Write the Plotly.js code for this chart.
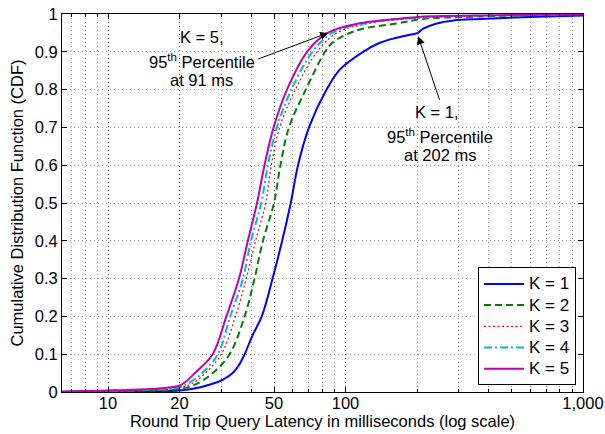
<!DOCTYPE html>
<html>
<head>
<meta charset="utf-8">
<script src="https://cdn.plot.ly/plotly-3.0.1.min.js"></script>
<style>html,body{margin:0;padding:0;background:#fff;}#chart{width:605px;height:434px;}</style>
</head>
<body>
<div id="chart"></div>
<script>
// Latency (ms) and CDF values
var k1_x = [6.4, 10, 15, 20, 23, 26, 30.5, 33.5, 35.5, 37.6, 40.6, 44.4, 49.3, 54.1, 58.8, 63.1, 70.2, 83.2, 94.6, 118.6, 139.6, 164, 196, 202, 212.5, 242, 284, 369, 600, 1000];
var k1_y = [0.0002, 0.001, 0.002, 0.004, 0.009, 0.017, 0.033, 0.05, 0.07, 0.1, 0.15, 0.2, 0.3, 0.4, 0.5, 0.6, 0.7, 0.8, 0.853, 0.9, 0.924, 0.937, 0.948, 0.950, 0.961, 0.975, 0.983, 0.987, 0.992, 0.996];

var k2_x = [6.4, 10, 15, 20, 23, 27.6, 32.5, 37.6, 41.4, 44.9, 50, 53.2, 57.8, 68, 82, 88, 101, 118, 164, 212, 313, 600, 1000];
var k2_y = [0.0003, 0.002, 0.004, 0.008, 0.018, 0.05, 0.1, 0.2, 0.3, 0.4, 0.5, 0.6, 0.7, 0.8, 0.9, 0.924, 0.946, 0.961, 0.975, 0.987, 0.992, 0.997, 0.999];

var k3_x = [6.4, 10, 15, 20, 22.5, 25.5, 30, 34.4, 38.2, 41.8, 46.1, 48.7, 52.8, 61.5, 75.9, 92, 125, 210, 420, 1000];
var k3_y = [0.0005, 0.003, 0.005, 0.011, 0.022, 0.048, 0.1, 0.2, 0.3, 0.4, 0.5, 0.6, 0.7, 0.8, 0.9, 0.95, 0.975, 0.99, 0.996, 0.9995];

var k4_x = [6.4, 10, 15, 20, 22, 24.7, 29, 32.7, 37, 40, 44.2, 47.1, 51.4, 59.2, 72.6, 88, 120, 200, 400, 1000];
var k4_y = [0.0005, 0.003, 0.006, 0.013, 0.025, 0.048, 0.1, 0.2, 0.3, 0.4, 0.5, 0.6, 0.7, 0.8, 0.9, 0.95, 0.975, 0.99, 0.996, 0.9995];

var k5_x = [6.4, 10, 15, 18, 20, 21.5, 23, 27.6, 31.5, 35.6, 38.8, 42.4, 45.6, 49.8, 56.7, 68.9, 84, 118.6, 164, 227, 433, 1000];
var k5_y = [0.001, 0.004, 0.008, 0.012, 0.017, 0.03, 0.048, 0.1, 0.2, 0.3, 0.4, 0.5, 0.6, 0.7, 0.8, 0.9, 0.95, 0.977, 0.987, 0.994, 0.997, 1.0];

var seriesNames = ['K = 1', 'K = 2', 'K = 3', 'K = 4', 'K = 5'];
var xTickVals = [10, 20, 50, 100, 1000];
var xTickText = ['10', '20', '50', '100', '1,000'];
var xMinorVals = [7, 8, 9, 30, 40, 60, 70, 80, 90, 200, 300, 400, 500, 600, 700, 800, 900];
var yTickVals = [0, 0.1, 0.2, 0.3, 0.4, 0.5, 0.6, 0.7, 0.8, 0.9, 1];
var yTickText = ['0', '0.1', '0.2', '0.3', '0.4', '0.5', '0.6', '0.7', '0.8', '0.9', '1'];

var FONT = 'Liberation Sans, Arial, Helvetica, sans-serif';
var FS = 16.5;

function legName(s) { return '<span style="font-size:17px">' + s + '</span>'; }

var SM = 1.0;
var traces = [
  {x: k1_x, y: k1_y, name: legName(seriesNames[0]), mode: 'lines', line: {color: '#0000ff', width: 2, shape: 'spline', smoothing: SM}},
  {x: k2_x, y: k2_y, name: legName(seriesNames[1]), mode: 'lines', line: {color: '#008000', width: 2, dash: '7px,4px', shape: 'spline', smoothing: SM}},
  {x: k3_x, y: k3_y, name: legName(seriesNames[2]), mode: 'lines', line: {color: '#ff0000', width: 1.2, dash: '2px,2.5px', shape: 'spline', smoothing: SM}},
  {x: k4_x, y: k4_y, name: legName(seriesNames[3]), mode: 'lines', line: {color: '#00bfbf', width: 2, dash: '8px,3px,2px,3px', shape: 'spline', smoothing: SM}},
  {x: k5_x, y: k5_y, name: legName(seriesNames[4]), mode: 'lines', line: {color: '#bf00bf', width: 2, shape: 'spline', smoothing: SM}}
];

var L = Math.log10;
function ann(text, x, y) {
  return {text: text, x: L(x), y: y, xref: 'x', yref: 'y', showarrow: false,
          xanchor: 'center', yanchor: 'middle', font: {family: FONT, size: FS, color: '#000'}};
}
function arrow(tx, ty, hx, hy) {
  return {text: '', x: L(hx), y: hy, ax: L(tx), ay: ty, xref: 'x', yref: 'y', axref: 'x', ayref: 'y',
          showarrow: true, arrowhead: 2, arrowsize: 1.6, arrowwidth: 1, arrowcolor: '#000', standoff: 0};
}

var layout = {
  width: 605, height: 434,
  margin: {l: 62, r: 22, t: 14, b: 42, pad: 0},
  paper_bgcolor: '#fff', plot_bgcolor: '#fff',
  font: {family: FONT, size: FS, color: '#000'},
  showlegend: true,
  legend: {x: 0.9866, xanchor: 'right', y: 0.0177, yanchor: 'bottom', bgcolor: '#fff',
           bordercolor: '#000', borderwidth: 1, itemwidth: 40,
           font: {family: FONT, size: 14, color: '#000'}},
  xaxis: {
    type: 'log', range: [L(6.4), 3],
    tickmode: 'array', tickvals: xTickVals, ticktext: xTickText,
    ticks: 'inside', ticklen: 5, tickcolor: '#000', tickwidth: 1,
    showline: true, linecolor: '#000', linewidth: 1, mirror: 'ticks',
    showgrid: true, gridcolor: '#555', gridwidth: 1, griddash: '1px,3px',
    zeroline: false, ticklabelstandoff: -4,
    minor: {tickmode: 'array', tickvals: xMinorVals, ticks: 'inside', ticklen: 3, tickcolor: '#000',
            showgrid: true, gridcolor: '#999', gridwidth: 1, griddash: '1px,3px'},
    tickfont: {family: FONT, size: FS, color: '#000'},
    title: {text: 'Round Trip Query Latency in milliseconds (log scale)', font: {family: FONT, size: FS, color: '#000'}, standoff: 4}
  },
  yaxis: {
    range: [0, 1],
    tickmode: 'array', tickvals: yTickVals, ticktext: yTickText,
    ticks: 'inside', ticklen: 5, tickcolor: '#000', tickwidth: 1,
    showline: true, linecolor: '#000', linewidth: 1, mirror: 'ticks',
    showgrid: true, gridcolor: '#999', gridwidth: 1, griddash: '1px,3px',
    zeroline: false,
    tickfont: {family: FONT, size: FS, color: '#000'},
    title: {text: 'Cumulative Distribution Function (CDF)', font: {family: FONT, size: FS, color: '#000'}, standoff: 6}
  },
  shapes: [
    {type: 'line', xref: 'x', yref: 'paper', x0: L(20), x1: L(20), y0: 0, y1: 1, layer: 'below', line: {color: '#000', width: 2, dash: '2px,2px'}},
    {type: 'line', xref: 'x', yref: 'paper', x0: L(50), x1: L(50), y0: 0, y1: 1, layer: 'below', line: {color: '#000', width: 2, dash: '2px,2px'}}
  ],
  annotations: [
    ann('K = 5,', 24.8, 0.94),
    ann('95<sup>th</sup> Percentile', 24.8, 0.875),
    ann('at 91 ms', 24.8, 0.826),
    arrow(42.1, 0.879, 84.5, 0.950),
    ann('K = 1,', 243, 0.741),
    ann('95<sup>th</sup> Percentile', 251, 0.678),
    ann('at 202 ms', 251, 0.628),
    arrow(250, 0.769, 202.3, 0.941)
  ]
};

Plotly.newPlot('chart', traces, layout, {staticPlot: true, displayModeBar: false});
</script>
</body>
</html>
